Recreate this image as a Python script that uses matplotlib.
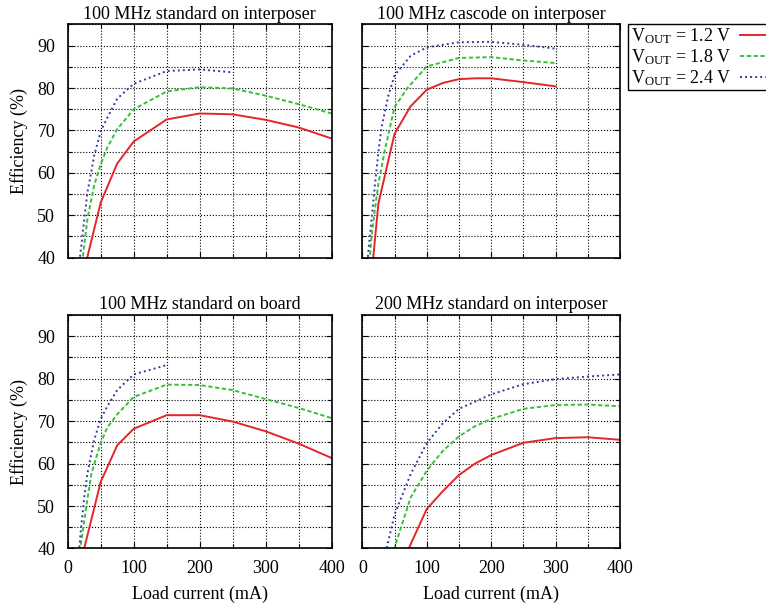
import numpy as np
import matplotlib
matplotlib.use('Agg')
import matplotlib.pyplot as plt
from matplotlib.ticker import MultipleLocator

# efficiency vs load current, one panel per converter setup
titles = ['100 MHz standard on interposer', '100 MHz cascode on interposer',
          '100 MHz standard on board', '200 MHz standard on interposer']
labels = [r'V$_{\rm OUT}$ = 1.2 V', r'V$_{\rm OUT}$ = 1.8 V', r'V$_{\rm OUT}$ = 2.4 V']

# 100 MHz standard on interposer
si_i12 = [25, 50, 75, 100, 150, 200, 250, 300, 350, 400]
si_e12 = [37.1, 53.0, 62.2, 67.4, 72.6, 74.0, 73.8, 72.5, 70.7, 68.1]
si_i18 = [20, 25, 30, 40, 50, 60, 75, 100, 150, 200, 250, 300, 350, 400]
si_e18 = [35.5, 43.0, 49.3, 57.0, 62.0, 66.0, 70.3, 75.0, 79.2, 80.2, 79.9, 78.2, 76.2, 74.0]
si_i24 = [15, 20, 25, 30, 35, 40, 50, 60, 75, 100, 150, 200, 250]
si_e24 = [35.5, 42.0, 49.0, 55.5, 59.6, 64.0, 69.8, 73.0, 77.5, 81.0, 84.0, 84.4, 83.7]

# 100 MHz cascode on interposer
ci_i12 = [15, 25, 50, 75, 100, 125, 150, 175, 200, 250, 300]
ci_e12 = [37.0, 52.8, 69.2, 75.7, 79.6, 81.2, 82.1, 82.3, 82.3, 81.4, 80.4]
ci_i18 = [10, 15, 20, 25, 35, 50, 70, 100, 150, 200, 250, 300]
ci_e18 = [37.5, 46.0, 52.0, 57.5, 65.4, 75.5, 80.0, 85.1, 87.1, 87.3, 86.5, 85.9]
ci_i24 = [8, 10, 15, 20, 25, 30, 40, 50, 75, 100, 150, 200, 250, 300]
ci_e24 = [39.0, 42.5, 50.0, 57.8, 64.9, 70.9, 78.0, 83.0, 87.6, 89.6, 90.8, 90.9, 90.2, 89.3]

# 100 MHz standard on board
sb_i12 = [20, 50, 75, 100, 150, 200, 250, 300, 350, 400]
sb_e12 = [36.9, 55.7, 64.3, 68.2, 71.4, 71.4, 69.9, 67.6, 64.7, 61.3]
sb_i18 = [15, 20, 28, 36, 50, 60, 75, 100, 150, 200, 250, 300, 350, 400]
sb_e18 = [34.5, 41.0, 49.8, 57.7, 64.9, 68.5, 71.6, 75.7, 78.6, 78.5, 77.3, 75.2, 73.1, 70.7]
sb_i24 = [15, 20, 25, 30, 40, 50, 60, 75, 100, 150]
sb_e24 = [35.5, 44.5, 52.0, 57.8, 65.5, 70.5, 73.5, 77.3, 81.0, 83.2]

# 200 MHz standard on interposer
s2_i12 = [60, 75, 100, 125, 150, 175, 200, 250, 300, 350, 400]
s2_e12 = [35.5, 41.0, 49.3, 53.5, 57.3, 60.0, 62.0, 64.9, 66.0, 66.2, 65.6]
s2_i18 = [40, 50, 75, 100, 125, 150, 175, 200, 250, 300, 350, 400]
s2_e18 = [35.0, 40.2, 52.0, 58.3, 63.0, 66.4, 68.8, 70.5, 72.9, 73.8, 73.9, 73.5]
s2_i24 = [30, 40, 50, 75, 100, 125, 150, 200, 250, 300, 350, 400]
s2_e24 = [35.5, 41.5, 48.0, 57.5, 64.8, 69.5, 72.9, 76.3, 78.7, 79.9, 80.5, 81.0]

panels = [
    [(si_i12, si_e12), (si_i18, si_e18), (si_i24, si_e24)],
    [(ci_i12, ci_e12), (ci_i18, ci_e18), (ci_i24, ci_e24)],
    [(sb_i12, sb_e12), (sb_i18, sb_e18), (sb_i24, sb_e24)],
    [(s2_i12, s2_e12), (s2_i18, s2_e18), (s2_i24, s2_e24)],
]

colors = ['#e3262b', '#3bbf3b', '#2d3e9e']
styles = ['-', (0, (2.2, 1.3)), (0, (1.0, 1.6))]

plt.rcParams['font.family'] = 'Liberation Serif'
plt.rcParams['mathtext.fontset'] = 'custom'
plt.rcParams['mathtext.rm'] = 'Liberation Serif'
plt.rcParams['mathtext.it'] = 'Liberation Serif:italic'
plt.rcParams['font.size'] = 13

fig = plt.figure(figsize=(7.66, 6.08), dpi=100)

rects = [
    [0.0884, 0.5762, 0.3446, 0.3836],
    [0.4730, 0.5762, 0.3364, 0.3836],
    [0.0884, 0.0979, 0.3446, 0.3840],
    [0.4730, 0.0979, 0.3364, 0.3840],
]

handles = []
for k in range(4):
    ax = fig.add_axes(rects[k])
    for j in range(3):
        xs, ys = panels[k][j]
        ln, = ax.plot(xs, ys, color=colors[j], linestyle=styles[j], lw=1.4)
        if k == 0:
            handles.append(ln)
    ax.set_xlim(0, 400)
    ax.set_ylim(40, 95)
    ax.xaxis.set_major_locator(MultipleLocator(100))
    ax.xaxis.set_minor_locator(MultipleLocator(50))
    ax.yaxis.set_major_locator(MultipleLocator(10))
    ax.yaxis.set_minor_locator(MultipleLocator(5))
    ax.grid(which='both', color='black', linestyle=':', linewidth=0.8)
    ax.set_axisbelow(True)
    ax.tick_params(which='both', direction='in', top=True, right=True, width=0.8)
    ax.tick_params(which='major', length=4)
    ax.tick_params(which='minor', length=3)
    ax.tick_params(axis='y', pad=9)
    ax.tick_params(axis='x', pad=8)
    for s in ax.spines.values():
        s.set_linewidth(1.2)
    ax.set_title(titles[k], fontsize=13, pad=4)
    if k % 2 == 0:
        ax.set_ylabel('Efficiency (%)')
        ax.yaxis.set_label_coords(-0.15, 0.5)
    else:
        ax.set_yticklabels([])
    if k >= 2:
        ax.set_xlabel('Load current (mA)')
        ax.xaxis.set_label_coords(0.5, -0.16)
    else:
        ax.set_xticklabels([])

fig.legend(handles, labels, loc='upper left', bbox_to_anchor=(628 / 766, 1 - 24 / 608),
           markerfirst=False, fancybox=False, framealpha=1, edgecolor='black',
           borderpad=0.15, labelspacing=0.05, handlelength=2.6, handletextpad=0.5,
           fontsize=13, borderaxespad=0)

plt.savefig('out.png', dpi=100)
